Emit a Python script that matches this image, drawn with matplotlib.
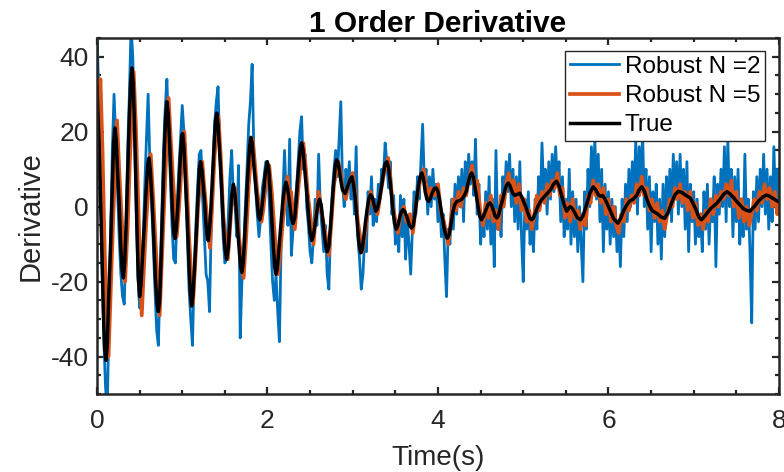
import numpy as np
import matplotlib
matplotlib.use('Agg')
import matplotlib.pyplot as plt
from matplotlib.ticker import MultipleLocator

plt.rcParams['font.family'] = ['Liberation Sans', 'DejaVu Sans']
plt.rcParams['axes.unicode_minus'] = False

# Robust N=2, sampled every 0.02 s from 0 to 8 s
robust2_dt = 0.02
robust2 = [
    48, 30, 10, -15, -35, -48, -55, -30, -8, 15, 30, 18, 5, -8, -18, -24, -26, -8, 15, 30, 48, 40, 20, 0, -18,
    -27, -22, -10, 5, 18, 30, 12, 2, -10, -22, -33, -37, -20, -2, 15, 26, 34, 20, 8, -5, -14, -15, 0, 10, 18,
    27, 20, 5, -8, -22, -30, -37, -18, -5, 5, 14, 15, 2, -8, -18, -20, -28, -5, 10, 22, 28, 32, 15, 3, -8,
    -15, -14, -3, 8, 15, 2, 0, -8, 11, -35, -20, -12, 0, 10, 22, 28, 38, 15, 5, -2, -8, -3, 5, 8, 12,
    12, 2, -10, -20, -25, -18, -28, -36, -10, 3, 15, 2, -5, 18, -13, -6, 0, 5, 12, 20, 24, 10, 14, 0, -5,
    -12, -15, -8, 2, -5, 14, 0, -6, -12, -5, -18, -22, -6, 4, 10, 15, 8, 18, 28, 6, 0, 10, 4, 12, 2,
    8, -2, 16, -8, -14, -22, -18, -8, -12, 4, -2, 8, -5, 2, -4, 6, 2, 10, 8, 17, 12, 5, 12, -2, 3,
    -10, -4, -12, 3, -8, 2, -14, -4, -10, -18, -6, 4, -2, 8, 2, 12, 22, 6, 10, -2, 8, 0, 10, 2, 6,
    -4, 3, -8, -2, -14, -24, -6, -10, 2, -6, 6, -2, 8, 0, 10, -4, 12, 4, 14, 6, 12, 3, 18, -2, 6,
    -10, -2, -8, 4, -6, 8, -10, 2, -16, 15, -6, 0, -8, 8, 2, 12, 4, 14, 0, 10, -4, 8, -6, 12, -8,
    -20, 2, -6, 4, -10, -4, -12, 2, -6, 8, 0, 17, 4, 10, -2, 12, 2, 14, 4, 16, 6, 12, -4, 8, -8,
    2, -6, 10, -10, 4, -8, 2, -12, 0, -10, -20, 4, -6, 10, 0, 16, 4, 18, 2, 14, -4, 10, -12, 6, -6,
    4, -10, 2, -8, 0, -12, -4, -16, 2, -8, 6, -4, 10, 0, 12, 2, 18, -2, 16, 4, 20, 0, 10, -6, 8,
    -12, 4, -4, 6, -10, 2, -14, 6, -8, 8, -2, 10, -4, 14, 2, 12, -2, 14, 0, 10, -6, 12, -12, 6, -4,
    4, -10, 2, -8, -2, -12, 4, -6, 6, -10, 2, -4, 8, -16, 6, -2, 10, 0, 16, -4, 18, 0, 10, -8, 8,
    -4, 10, -10, 2, -8, 14, -6, 2, -12, -31, 4, -6, 8, -4, 10, 0, 14, -2, 10, -6, 8, -4, 16, 0, 10, 2,
]
robust2_t = np.arange(len(robust2)) * robust2_dt

# Robust N=5
robust5_t = [
    0.00, 0.02, 0.04, 0.065, 0.09, 0.135, 0.165, 0.19, 0.235, 0.26, 0.28, 0.33, 0.36, 0.385, 0.43, 0.455, 0.48,
    0.525, 0.555, 0.58, 0.63, 0.66, 0.685, 0.735, 0.765, 0.79, 0.84, 0.865, 0.89, 0.935, 0.96, 0.985,
    1.025, 1.05, 1.08, 1.125, 1.155, 1.185, 1.235, 1.255, 1.28, 1.325, 1.35, 1.38, 1.425, 1.45, 1.48,
    1.535, 1.56, 1.585, 1.62, 1.65, 1.675, 1.72, 1.75, 1.78, 1.825, 1.85, 1.88, 1.93, 1.955, 1.98,
    2.02, 2.05, 2.08, 2.125, 2.15, 2.18, 2.235, 2.26, 2.275, 2.32, 2.35, 2.375, 2.42, 2.45, 2.47,
    2.54, 2.56, 2.60, 2.63, 2.67, 2.72, 2.75, 2.78, 2.83, 2.86, 2.88, 2.92, 2.95, 3.00, 3.03, 3.06,
    3.115, 3.14, 3.17, 3.21, 3.25, 3.29, 3.33, 3.36, 3.415, 3.44, 3.47, 3.53, 3.56, 3.60, 3.63, 3.67,
    3.705, 3.74, 3.78, 3.83, 3.86, 3.89, 3.92, 3.96, 4.00, 4.03, 4.07, 4.12, 4.15, 4.18, 4.21, 4.24,
    4.27, 4.30, 4.33, 4.36, 4.40, 4.43, 4.46, 4.50, 4.53, 4.56, 4.59, 4.62, 4.65, 4.68, 4.71, 4.74,
    4.77, 4.80, 4.83, 4.86, 4.89, 4.92, 4.95, 4.98, 5.01, 5.04, 5.07, 5.10, 5.13, 5.16, 5.19, 5.22,
    5.25, 5.28, 5.31, 5.34, 5.37, 5.40, 5.43, 5.46, 5.49, 5.52, 5.55, 5.58, 5.61, 5.64, 5.67, 5.70,
    5.73, 5.76, 5.79, 5.82, 5.85, 5.88, 5.91, 5.94, 5.97, 6.00, 6.03, 6.06, 6.09, 6.12, 6.15, 6.18,
    6.21, 6.24, 6.27, 6.30, 6.33, 6.36, 6.39, 6.42, 6.45, 6.48, 6.51, 6.54, 6.57, 6.60, 6.63, 6.66,
    6.69, 6.72, 6.75, 6.78, 6.81, 6.84, 6.87, 6.90, 6.93, 6.96, 6.99, 7.02, 7.05, 7.08, 7.11, 7.14,
    7.17, 7.20, 7.23, 7.26, 7.29, 7.32, 7.35, 7.38, 7.41, 7.44, 7.47, 7.50, 7.53, 7.56, 7.59, 7.62,
    7.65, 7.68, 7.71, 7.74, 7.77, 7.80, 7.83, 7.86, 7.89, 7.92, 7.95, 7.98, 8.00,
]
robust5 = [
    8, 25, 34, 15, -12, -40, -20, -3, 23, 10, 1, -20, -5, 12, 36, 22, 4,
    -29, -14, -3, 14, 2, -9, -29, -12, 2, 29, 18, 8, -8, -1, 8,
    20, 8, -8, -26, -14, 0, 12, 6, 0, -11, 0, 14, 24, 14, -2,
    -14, -6, 3, 5, -4, -10, -19, -8, 6, 18, 12, 4, -4, 0, 6,
    11, 4, -6, -18, -12, -4, 8, 2, 4, -6, 2, 8, 17, 10, 4,
    -10, -4, 4, -1, -6, -13, -4, 6, 12, 9, 5, 2, 6, 9, 4, -4,
    -12, -8, -2, 4, 0, -2, 4, 8, 13, 8, 0, -7, -2, 0, -4, -2,
    -7, 0, 6, 10, 6, 2, 5, 3, 6, -1, -4, -10, -4, 2, -1, 4,
    0, 5, 3, 7, 11, 5, 7, -2, -5, 1, -3, 3, -4, -1, -6, 3,
    0, 6, 9, 4, 7, 1, 6, -1, 2, -4, -1, -6, -2, 3, -1, 4,
    1, 6, 3, 7, 5, 9, 3, 5, -3, 1, -4, 2, -3, -1, -6, -2,
    -5, 3, 1, 7, 3, 6, 1, 5, -2, 2, -4, 0, -5, -7, -2, -4,
    2, -1, 3, 1, 6, 3, 8, 3, 5, -1, 2, -3, 1, -4, -1, -6,
    -2, 2, 0, 5, 2, 6, 1, 4, -1, 4, -3, 1, -5, -2, -6, -1,
    -4, 2, -2, 3, 0, 4, 2, 6, 3, 7, 0, 4, -3, 2, -4, 0,
    -5, -2, 2, -1, 4, 1, 6, 2, 5, 0, 4, -2, 1,
]

# True derivative
true_t = [
    0.00, 0.025, 0.05, 0.075, 0.09, 0.105, 0.12, 0.135, 0.16, 0.18,
    0.195, 0.21, 0.225, 0.24, 0.26, 0.28, 0.295, 0.31, 0.325, 0.34,
    0.36, 0.38, 0.395, 0.41, 0.425, 0.44, 0.455, 0.47, 0.485, 0.50,
    0.515, 0.535, 0.555, 0.575, 0.595, 0.61, 0.625, 0.645, 0.665, 0.685,
    0.705, 0.72, 0.735, 0.75, 0.77, 0.79, 0.805, 0.82, 0.835, 0.85,
    0.865, 0.885, 0.90, 0.915, 0.93, 0.945, 0.96, 0.98, 0.995, 1.005,
    1.02, 1.04, 1.06, 1.08, 1.095, 1.11, 1.125, 1.145, 1.165, 1.185,
    1.20, 1.215, 1.23, 1.245, 1.26, 1.28, 1.295, 1.305, 1.32, 1.335,
    1.355, 1.375, 1.39, 1.405, 1.42, 1.44, 1.46, 1.48, 1.50, 1.52,
    1.54, 1.56, 1.58, 1.60, 1.62, 1.635, 1.65, 1.67, 1.685, 1.70,
    1.715, 1.73, 1.75, 1.77, 1.79, 1.805, 1.82, 1.84, 1.86, 1.88,
    1.895, 1.91, 1.925, 1.94, 1.955, 1.975, 1.998, 2.015, 2.035, 2.05,
    2.07, 2.085, 2.10, 2.115, 2.135, 2.16, 2.18, 2.20, 2.217, 2.235,
    2.26, 2.28, 2.30, 2.32, 2.335, 2.35, 2.37, 2.385, 2.40, 2.415,
    2.44, 2.46, 2.48, 2.50, 2.52, 2.54, 2.57, 2.59, 2.61, 2.63,
    2.655, 2.68, 2.70, 2.72, 2.74, 2.755, 2.775, 2.795, 2.81, 2.825,
    2.845, 2.86, 2.88, 2.91, 2.95, 2.975, 2.99, 3.01, 3.03, 3.045,
    3.065, 3.08, 3.095, 3.11, 3.13, 3.15, 3.17, 3.19, 3.21, 3.23,
    3.25, 3.27, 3.29, 3.31, 3.335, 3.36, 3.38, 3.40, 3.42, 3.44,
    3.455, 3.47, 3.49, 3.51, 3.53, 3.55, 3.57, 3.59, 3.61, 3.64,
    3.665, 3.69, 3.71, 3.73, 3.75, 3.77, 3.79, 3.81, 3.83, 3.85,
    3.87, 3.89, 3.91, 3.93, 3.955, 3.98, 4.00, 4.02, 4.045, 4.07,
    4.09, 4.11, 4.13, 4.15, 4.17, 4.195, 4.22, 4.25, 4.28, 4.305,
    4.33, 4.36, 4.38, 4.395, 4.415, 4.435, 4.45, 4.47, 4.49, 4.51,
    4.535, 4.56, 4.585, 4.61, 4.63, 4.65, 4.67, 4.69, 4.71, 4.735,
    4.76, 4.785, 4.805, 4.825, 4.845, 4.86, 4.88, 4.90, 4.93, 4.96,
    4.985, 5.01, 5.03, 5.055, 5.08, 5.10, 5.12, 5.145, 5.17, 5.205,
    5.24, 5.28, 5.32, 5.355, 5.39, 5.42, 5.45, 5.48, 5.51, 5.53,
    5.55, 5.57, 5.59, 5.63, 5.67, 5.70, 5.725, 5.75, 5.785, 5.82,
    5.85, 5.88, 5.905, 5.93, 5.96, 5.99, 6.02, 6.06, 6.11, 6.145,
    6.18, 6.215, 6.25, 6.29, 6.33, 6.36, 6.39, 6.42, 6.45, 6.48,
    6.51, 6.545, 6.58, 6.62, 6.66, 6.70, 6.74, 6.78, 6.82, 6.86,
    6.91, 6.96, 7.00, 7.03, 7.06, 7.09, 7.13, 7.17, 7.20, 7.235,
    7.27, 7.31, 7.35, 7.39, 7.43, 7.465, 7.50, 7.54, 7.58, 7.62,
    7.66, 7.71, 7.76, 7.81, 7.855, 7.89, 7.93, 7.96, 7.99,
]
true_v = [
    32, 16, -5, -28, -38, -41, -37, -26, -10, 6,
    17, 21, 18, 10, 1, -11, -17, -19, -15, -6,
    9, 24, 33, 37, 33, 22, 7, -7, -19, -24,
    -21, -13, -5, 4, 11, 13, 10, 2, -8, -19,
    -26, -28, -25, -15, 0, 15, 24, 28, 25, 18,
    10, -1, -7, -8.5, -6, -1, 5, 14, 19, 19.5,
    16, 6, -4, -16, -23, -26.5, -24, -16, -7, 3,
    10, 12, 10, 6, 2, -5, -8.5, -9, -6, -1,
    8, 17, 23, 25, 22, 14, 6, -4, -11, -14,
    -11, -4, 3, 6, 3, -1, -6, -12, -16, -17.5,
    -15, -9, 0, 9, 16, 18.5, 17, 11, 6, 1,
    -2.5, -3.5, -2, 1, 4, 9, 12, 10, 3, -3,
    -11, -16, -18, -16.5, -11, -4, 1.5, 5, 6.5, 5,
    1, -3, -4.5, -3, 1, 6, 12, 15.5, 17, 15.5,
    9, 4, -2, -7, -9, -7.5, -3, 0.5, 2, 0.5,
    -5, -10, -12, -10.5, -5, 0, 6, 11, 12.5, 12,
    9.5, 7, 4.5, 3.5, 6, 7.5, 8, 6, 2, -2,
    -8, -11, -12.3, -11.5, -8, -4, -0.5, 2.2, 3.2, 2.5,
    0.5, -1.2, -0.5, 1.5, 5, 9, 11.5, 12, 10.5, 6.5,
    3, -0.5, -4.5, -6, -5, -3, -1.3, -0.8, -1.3, -3,
    -5, -5.7, -5, -2, 2, 5.5, 8, 9, 7.5, 4,
    2, 1.4, 2.2, 3.5, 4.8, 5, 4, 1.5, -2, -5.5,
    -7.5, -8.4, -7.5, -5, -2, 0.5, 1.4, 1.6, 2, 2.8,
    4, 7, 8.5, 9, 8, 5, 3, 0, -2.5, -3.5,
    -2.5, -1, 0.5, 1, 0.3, -1, -2.5, -3, -2.3, 0,
    2, 4.5, 5.8, 6.3, 5.6, 4.5, 3.5, 3, 3.3, 3.6,
    2.5, 1, 0, -1.8, -3.2, -3.5, -3, -1.5, 0, 1.5,
    2.5, 3.5, 4.5, 6, 6.8, 5.5, 3, 0.5, -1.2, -0.5,
    0, -0.3, -1, -2.8, -3.5, -2.5, -0.8, 1, 3.8, 5.3,
    4.5, 3.2, 2.8, 3, 2, 0.5, -1, -3.2, -4.4, -3,
    -1, 0.5, 1.5, 2, 3, 4.5, 5.3, 4.2, 2, 0.3,
    -1, -1.5, -2, -2.8, -3.1, -1.5, 1, 3.2, 4.1, 3.8,
    3, 2.3, 0.5, -1, -2.8, -3.5, -2.5, -1.3, -0.5, 0.2,
    0.9, 2, 3.3, 4, 3.3, 2.5, 1.5, 0.5, -0.5, -1,
    -1.2, 0, 1.5, 2.6, 3.1, 2.8, 2.2, 1.8, 1.4,
]

ink = '#262626'

fig = plt.figure(figsize=(7.84, 4.72), dpi=100)
ax = fig.add_axes([0.1237, 0.165, 0.8699, 0.7545])

ax.plot(robust2_t, robust2, color='#0072BD', lw=2.0, label='Robust N =2')
ax.plot(robust5_t, robust5, color='#D95319', lw=2.7, label='Robust N =5', solid_joinstyle='round')
ax.plot(true_t, true_v, color='black', lw=2.5, label='True', solid_joinstyle='round')

ax.set_xlim(0, 8)
ax.set_ylim(-50, 45)
ax.xaxis.set_major_locator(MultipleLocator(2))
ax.xaxis.set_minor_locator(MultipleLocator(0.5))
ax.yaxis.set_major_locator(MultipleLocator(20))
ax.yaxis.set_minor_locator(MultipleLocator(5))
ax.tick_params(which='both', direction='in', top=True, right=True, width=1.6, colors=ink,
               labelsize=19, labelcolor=ink)
ax.tick_params(which='major', length=5)
ax.tick_params(which='minor', length=3)
ax.tick_params(axis='x', pad=11)
ax.tick_params(axis='y', pad=6)
for s in ax.spines.values():
    s.set_linewidth(1.8)
    s.set_color(ink)

ax.set_xlabel('Time(s)', fontsize=20, color=ink, labelpad=8)
ax.set_ylabel('Derivative', fontsize=21, color=ink, labelpad=4)
ax.set_title('1 Order Derivative', fontsize=21.5, fontweight='bold', pad=3)

leg = ax.legend(loc='upper right', bbox_to_anchor=(0.9795, 0.9635), fontsize=17.5, frameon=True,
                fancybox=False, edgecolor=ink, framealpha=1, handlelength=2.0,
                handletextpad=0.25, borderpad=0.2, labelspacing=0.3, borderaxespad=0)
leg.get_frame().set_linewidth(1.0)

fig.savefig('out.png', dpi=100)
